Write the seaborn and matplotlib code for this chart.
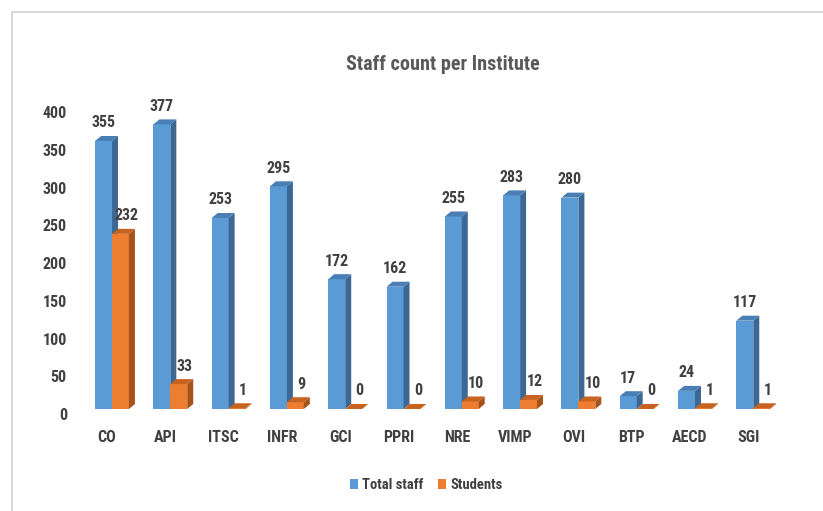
import matplotlib
matplotlib.use("Agg")
import matplotlib.pyplot as plt
import matplotlib.transforms as mtrans
from matplotlib.patches import Polygon, Rectangle
import seaborn as sns
import pandas as pd

# ---- data ----
institutes = ["CO", "API", "ITSC", "INFR", "GCI", "PPRI", "NRE", "VIMP", "OVI", "BTP", "AECD", "SGI"]
total_staff = [355, 377, 253, 295, 172, 162, 255, 283, 280, 17, 24, 117]
students = [232, 33, 1, 9, 0, 0, 10, 12, 10, 0, 1, 1]
series_names = ["Total staff", "Students"]
yticks = [0, 50, 100, 150, 200, 250, 300, 350, 400]
title = "Staff count per Institute"

# ---- style ----
sns.set_theme(style="white")
plt.rcParams["font.family"] = ["Liberation Sans Narrow", "DejaVu Sans Condensed", "Roboto Condensed",
                               "Liberation Sans", "DejaVu Sans"]
TXT = "#404040"
front_cols = ["#5B9BD5", "#ED7D31"]
side_cols = ["#3D6894", "#A5521B"]
top_cols = ["#4A7FB6", "#C7621F"]

df = pd.DataFrame({
    "Institute": institutes * 2,
    "Series": [series_names[0]] * len(institutes) + [series_names[1]] * len(institutes),
    "Count": total_staff + students,
})

fig = plt.figure(figsize=(8.23, 5.11), dpi=100)
ax = fig.add_axes([0.1007, 0.1996, 0.850, 0.591])
sns.barplot(data=df, x="Institute", y="Count", hue="Series", hue_order=series_names,
            palette=front_cols, width=0.58, saturation=1, ax=ax, legend=False,
            edgecolor="none", linewidth=0)

ax.set_xlim(-0.5, len(institutes) - 0.5)
ax.set_ylim(0, 400)
ax.set_yticks(yticks)
ax.set_xlabel("")
ax.set_ylabel("")
for s in ax.spines.values():
    s.set_visible(False)
ax.grid(False)
ax.tick_params(axis="both", length=0, labelsize=11.5, labelcolor=TXT)
ax.tick_params(axis="y", pad=11.5)
ax.tick_params(axis="x", pad=15)
for lab in ax.get_xticklabels() + ax.get_yticklabels():
    lab.set_fontweight("bold")
for lab in ax.get_yticklabels():
    lab.set_transform(lab.get_transform() + mtrans.ScaledTranslation(0, -5 / 100, fig.dpi_scale_trans))
for lab in ax.get_xticklabels():
    lab.set_transform(lab.get_transform() + mtrans.ScaledTranslation(-5 / 100, 0, fig.dpi_scale_trans))

# ---- pseudo 3D faces ----
dx = 0.103   # category units
dy = 6.6     # value units
for si, cont in enumerate(ax.containers):
    z = 2 if si == 0 else 3
    for bar in cont.patches:
        bar.set_zorder(z)
        x0 = bar.get_x()
        w = bar.get_width()
        h = bar.get_height()
        x1 = x0 + w
        side = Polygon([(x1, 0), (x1 + dx, dy), (x1 + dx, h + dy), (x1, h)], closed=True,
                       facecolor=side_cols[si], edgecolor="none", zorder=z)
        top = Polygon([(x0, h), (x0 + dx, h + dy), (x1 + dx, h + dy), (x1, h)], closed=True,
                      facecolor=top_cols[si], edgecolor="none", zorder=z)
        ax.add_patch(side)
        ax.add_patch(top)
        lx = x0 + w / 2 + (dx * 1.0 if si == 1 else 0)
        ax.annotate(f"{int(h)}", (lx, h + dy), xytext=(0, 4), textcoords="offset points",
                    ha="center", va="bottom", fontsize=11.5, fontweight="bold", color=TXT,
                    zorder=5, annotation_clip=False)

# ---- title, legend, frame ----
fig.text(443 / 823, 1 - 65 / 511, title, ha="center", va="center", fontsize=14.5,
         fontweight="bold", color="#595959")
handles = [Rectangle((0, 0), 1, 1, facecolor=c, edgecolor="none") for c in front_cols]
fig.legend(handles, series_names, loc="center", bbox_to_anchor=(426 / 823, 1 - 485 / 511),
           ncol=2, frameon=False, handlelength=0.55, handleheight=0.7,
           handletextpad=0.3, columnspacing=1.0, labelcolor=TXT,
           prop={"weight": "bold", "size": 10.5})
fig.patches.append(Rectangle((12 / 823, -0.02), 1.0, (511 - 12) / 511 + 0.02,
                             transform=fig.transFigure, fill=False, edgecolor="#D9D9D9",
                             linewidth=1.5))

fig.savefig("out.png", dpi=100)
